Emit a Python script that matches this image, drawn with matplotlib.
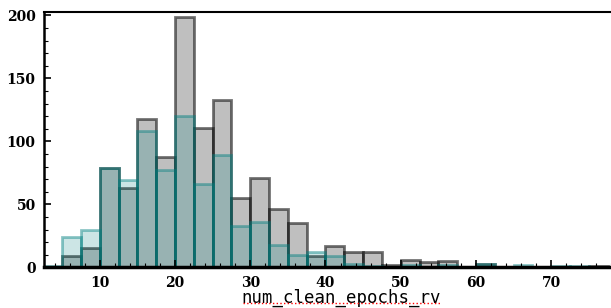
import matplotlib.pyplot as plt
import numpy as np
from matplotlib.lines import Line2D
from matplotlib.ticker import MultipleLocator

# histogram bins (left edges, width 2.5) and counts
bin_left = [2.5, 5, 7.5, 10, 12.5, 15, 17.5, 20, 22.5, 25, 27.5, 30, 32.5, 35, 37.5,
            40, 42.5, 45, 47.5, 50, 52.5, 55, 57.5, 60, 62.5, 65, 67.5, 70, 72.5, 75]
gray_counts = [0, 9, 15, 79, 63, 118, 88, 199, 111, 133, 55, 71, 46, 35, 9,
               17, 12, 12, 2, 6, 4, 5, 0, 3, 0, 0, 0, 0, 0, 1]
teal_counts = [1, 24, 30, 79, 69, 108, 77, 120, 66, 89, 33, 36, 18, 10, 12,
               9, 3, 1, 0, 2, 0, 2, 0, 3, 0, 2, 0, 1, 1, 0]
width = 2.5

fig = plt.figure(figsize=(6.11, 3.08), dpi=100)
ax = fig.add_axes([0.072, 0.132, 0.93, 0.828])

ax.bar(bin_left, gray_counts, width=width, align='edge', color=(0.5, 0.5, 0.5, 0.5),
       edgecolor=(0, 0, 0, 0.55), linewidth=2)
ax.bar(bin_left, teal_counts, width=width, align='edge', color=(0.0, 0.5, 0.5, 0.2),
       edgecolor=(0.0, 0.5, 0.5, 0.45), linewidth=2)

ax.set_xlim(2.6, 78.1)
ax.set_ylim(0, 202.5)
ax.xaxis.set_major_locator(MultipleLocator(10))
ax.xaxis.set_minor_locator(MultipleLocator(2))
ax.yaxis.set_major_locator(MultipleLocator(50))
ax.yaxis.set_minor_locator(MultipleLocator(10))
ax.tick_params(which='both', direction='in', top=False, right=False)
ax.tick_params(which='major', length=5, width=1.2, pad=6)
ax.tick_params(which='minor', length=3, width=0.8)

for lab in ax.get_xticklabels() + ax.get_yticklabels():
    lab.set_fontfamily('DejaVu Serif')
    lab.set_fontweight('bold')
    lab.set_fontsize(10)

ax.spines['bottom'].set_linewidth(2.5)
ax.spines['left'].set_linewidth(1.8)
ax.spines['top'].set_linewidth(1.5)
ax.spines['right'].set_visible(False)

ax.set_xlabel('num_clean_epochs_rv', family='DejaVu Sans Mono', fontsize=12.5)
ax.xaxis.set_label_coords(0.523, -0.085, transform=ax.transAxes)
ax.xaxis.label.set_va('top')

# dotted red spell-check underline under the label
fig.add_artist(Line2D([243 / 611, 441 / 611], [1 - 303 / 308, 1 - 303 / 308],
                      color='red', linestyle=':', linewidth=1, transform=fig.transFigure))

plt.savefig('out.png', dpi=100)
